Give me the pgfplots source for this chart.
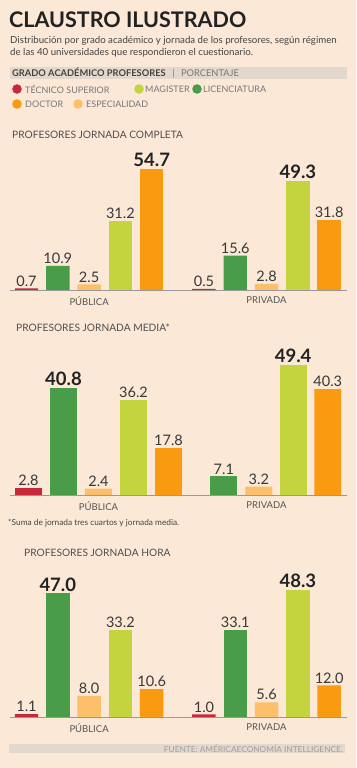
\documentclass[border=0pt]{standalone}
\usepackage{fontspec}
\setmainfont{Lato}
\usepackage{pgfplots}
\pgfplotsset{compat=1.18}
\definecolor{bg}{HTML}{FCE8D6}
\definecolor{cred}{HTML}{C8283C}
\definecolor{cgreen}{HTML}{4A9D48}
\definecolor{clor}{HTML}{FDC06A}
\definecolor{clime}{HTML}{C3D43F}
\definecolor{corange}{HTML}{F99A10}
\definecolor{band}{HTML}{E3D8CD}
\definecolor{dark}{HTML}{222222}
\definecolor{midgray}{HTML}{555555}
\definecolor{lgray}{HTML}{777777}
\pgfplotsset{
  mybar/.style={ybar, bar shift=0pt, draw=none, fill=#1, nodes near coords},
  boldlab/.style={nodes near coords style={font=\bfseries\fontsize{18.5}{18.5}\selectfont, text=dark}},
  panel/.style={
    scale only axis, width=337pt, clip=false,
    ymin=0, axis x line*=bottom, axis y line=none,
    x axis line style={-, draw=gray!80, line width=0.8pt},
    xtick style={draw=none}, ytick=\empty,
    xticklabel style={font=\fontsize{9.5}{10}\selectfont, text=midgray, yshift=-3.5pt},
    major tick length=0pt,
    /pgf/number format/.cd, fixed, fixed zerofill, precision=1, assume math mode=true,
    /pgfplots/.cd,
    nodes near coords style={font=\fontsize{14.5}{14.5}\selectfont, text=dark!90, inner sep=2pt},
  },
}
\begin{document}
\begin{tikzpicture}[x=1pt,y=1pt]
\useasboundingbox (0,0) rectangle (356pt,768pt);
\fill[bg] (0,0) rectangle (356pt,768pt);
% header
\node[anchor=west, inner sep=0, font=\bfseries\fontsize{21.5}{21.5}\selectfont, text=dark] at (9pt,748pt) {CLAUSTRO ILUSTRADO};
\node[anchor=north west, inner sep=0, align=left, font=\fontsize{9.7}{11.8}\selectfont, text=dark!85] at (10pt,732pt) {Distribución por grado académico y jornada de los profesores, según régimen\\de las 40 universidades que respondieron el cuestionario.};
\fill[band] (10pt,689pt) rectangle (347pt,701pt);
\node[anchor=west, inner sep=0, font=\bfseries\fontsize{9.3}{10}\selectfont, text=dark!85] at (12pt,695pt) {GRADO ACADÉMICO PROFESORES\hspace{7pt}\textcolor{lgray}{\mdseries |\hspace{6pt}PORCENTAJE}};
% legend
\begin{scope}[every node/.style={anchor=west, inner sep=0, font=\fontsize{9}{10}\selectfont, text=lgray}]
\fill[cred] (17pt,679pt) circle (4.8pt);  \node at (25pt,679pt) {TÉCNICO SUPERIOR};
\fill[clime] (139pt,679pt) circle (4.8pt); \node at (145pt,679pt) {MAGISTER};
\fill[cgreen] (197pt,679pt) circle (4.8pt); \node at (203pt,679pt) {LICENCIATURA};
\fill[corange] (17pt,664pt) circle (4.8pt); \node at (25pt,664pt) {DOCTOR};
\fill[clor] (78pt,664pt) circle (4.8pt); \node at (86pt,664pt) {ESPECIALIDAD};
\end{scope}
% panel titles and notes
\begin{scope}[every node/.style={anchor=west, inner sep=0, font=\fontsize{10.2}{11}\selectfont, text=dark!80}]
\node at (12pt,633pt) {PROFESORES JORNADA COMPLETA};
\node at (16pt,440pt) {PROFESORES JORNADA MEDIA*};
\node at (24pt,215pt) {PROFESORES JORNADA HORA};
\end{scope}
\node[anchor=west, inner sep=0, font=\fontsize{8.3}{9}\selectfont, text=dark!85] at (8pt,245pt) {*Suma de jornada tres cuartos y jornada media.};
\fill[band] (9pt,15pt) rectangle (345pt,24pt);
\node[anchor=east, inner sep=0, font=\fontsize{8.3}{9}\selectfont, text=gray!75] at (343pt,19.5pt) {FUENTE: AMÉRICAECONOMÍA INTELLIGENCE.};

% Panel 1: jornada completa
\begin{axis}[panel, at={(10pt,478pt)}, anchor=south west, height=132.4pt,
  xmin=-0.527, xmax=10.24, ymax=60, xtick={2,7.67}, xticklabels={PÚBLICA,PRIVADA}]
\addplot[mybar=cred, bar width=0.75] coordinates {(0,0.7) (5.67,0.5)};
\addplot[mybar=cgreen, bar width=0.75] coordinates {(1,10.9) (6.67,15.6)};
\addplot[mybar=clor, bar width=0.75] coordinates {(2,2.5) (7.67,2.8)};
\addplot[mybar=clime, bar width=0.75] coordinates {(3,31.2)};
\addplot[mybar=clime, bar width=0.75, boldlab] coordinates {(8.67,49.3)};
\addplot[mybar=corange, bar width=0.75, boldlab] coordinates {(4,54.7)};
\addplot[mybar=corange, bar width=0.75] coordinates {(9.67,31.8)};
\end{axis}

% Panel 2: jornada media
\begin{axis}[panel, at={(10pt,273pt)}, anchor=south west, height=144.65pt,
  xmin=-0.529, xmax=9.1, ymax=55, xtick={2,6.8}, xticklabels={PÚBLICA,PRIVADA}]
\addplot[mybar=cred, bar width=0.77] coordinates {(0,2.8)};
\addplot[mybar=cgreen, bar width=0.77, boldlab] coordinates {(1,40.8)};
\addplot[mybar=cgreen, bar width=0.77] coordinates {(5.58,7.1)};
\addplot[mybar=clor, bar width=0.77] coordinates {(2,2.4) (6.58,3.2)};
\addplot[mybar=clime, bar width=0.77] coordinates {(3,36.2)};
\addplot[mybar=clime, bar width=0.77, boldlab] coordinates {(7.56,49.4)};
\addplot[mybar=corange, bar width=0.77] coordinates {(4,17.8) (8.55,40.3)};
\end{axis}

% Panel 3: jornada hora
\begin{axis}[panel, at={(10pt,51pt)}, anchor=south west, height=144.65pt,
  xmin=-0.527, xmax=10.24, ymax=55, xtick={2,7.67}, xticklabels={PÚBLICA,PRIVADA}]
\addplot[mybar=cred, bar width=0.75] coordinates {(0,1.1) (5.67,1.0)};
\addplot[mybar=cgreen, bar width=0.75, boldlab] coordinates {(1,47.0)};
\addplot[mybar=cgreen, bar width=0.75] coordinates {(6.67,33.1)};
\addplot[mybar=clor, bar width=0.75] coordinates {(2,8.0) (7.67,5.6)};
\addplot[mybar=clime, bar width=0.75] coordinates {(3,33.2)};
\addplot[mybar=clime, bar width=0.75, boldlab] coordinates {(8.67,48.3)};
\addplot[mybar=corange, bar width=0.75] coordinates {(4,10.6) (9.67,12.0)};
\end{axis}
\end{tikzpicture}
\end{document}
